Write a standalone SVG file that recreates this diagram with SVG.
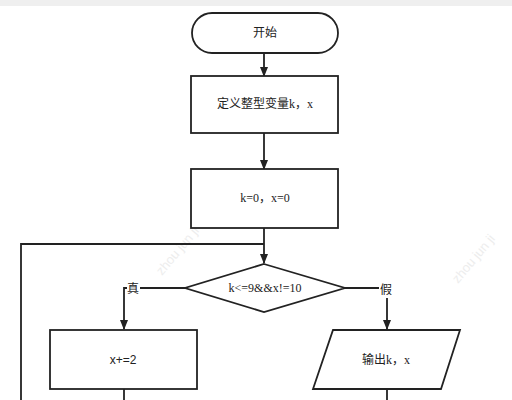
<svg xmlns="http://www.w3.org/2000/svg" width="512" height="400" viewBox="0 0 512 400">
<style>
.s{fill:#fff;stroke:#222;stroke-width:1.8}
.c{fill:none;stroke:#222;stroke-width:1.8}
.t{font-family:"Liberation Serif","Noto Sans CJK SC",serif;font-size:12px;fill:#222;text-anchor:middle;dominant-baseline:central}
.wm{font-family:"Liberation Sans",sans-serif;font-size:13px;fill:#ededed}
</style>
<defs>
<marker id="a" markerWidth="10" markerHeight="10" refX="9" refY="5" orient="auto" markerUnits="userSpaceOnUse">
<path d="M0,1 L10,5 L0,9 Z" fill="#222"/>
</marker>
</defs>
<rect x="0" y="0" width="512" height="400" fill="#fff"/>
<rect x="0" y="0" width="512" height="6" fill="#efefef"/>
<text class="wm" transform="translate(162,276) rotate(-50)">zhou jun ji</text>
<text class="wm" transform="translate(458,284) rotate(-50)">zhou jun ji</text>
<g id="connectors">
<line class="c" x1="264" y1="53" x2="264" y2="76" marker-end="url(#a)"/>
<line class="c" x1="264" y1="133" x2="264" y2="169" marker-end="url(#a)"/>
<line class="c" x1="264" y1="228" x2="264" y2="263" marker-end="url(#a)"/>
<polyline class="c" points="21,400 21,244 264,244"/>
<polyline class="c" points="185,288 124,288 124,329" marker-end="url(#a)"/>
<polyline class="c" points="345,288 387,288 387,329" marker-end="url(#a)"/>
<line class="c" x1="124" y1="389" x2="124" y2="400"/>
<line class="c" x1="387" y1="389" x2="387" y2="400"/>
<rect x="127" y="281" width="13" height="15" fill="#fff"/>
<text class="t" x="133" y="289">真</text>
<rect x="379" y="281" width="14" height="17" fill="#fff"/>
<text class="t" x="386" y="290">假</text>
</g>
<g id="start">
<rect class="s" x="192" y="13" width="146" height="40" rx="20" ry="20"/>
<text class="t" x="265" y="33">开始</text>
</g>
<g id="define">
<rect class="s" x="191" y="76" width="147" height="57"/>
<text class="t" x="265" y="104">定义整型变量k，x</text>
</g>
<g id="init">
<rect class="s" x="191" y="169" width="147" height="59"/>
<text class="t" x="265" y="198">k=0，x=0</text>
</g>
<g id="cond">
<polygon class="s" points="264,264 345,288 264,312 185,288"/>
<text class="t" x="265" y="288">k&lt;=9&amp;&amp;x!=10</text>
</g>
<g id="inc">
<rect class="s" x="50" y="330" width="147" height="59"/>
<text class="t" x="123" y="360" style="font-family:'Liberation Sans',sans-serif">x+=2</text>
</g>
<g id="output">
<polygon class="s" points="333,330 460,330 441,389 313,389"/>
<text class="t" x="386" y="360">输出k，x</text>
</g>
</svg>
